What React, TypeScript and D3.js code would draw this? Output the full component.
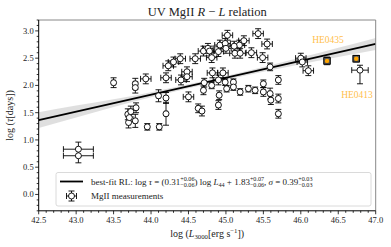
import { useEffect, useRef } from 'react';
import { select, scaleLinear, area, line, curveMonotoneX, range } from 'd3';

// MgII measurements: log L3000, log tau, and their errors
const logL = [
  43.03, 43.03, 43.5, 43.79, 43.79, 43.93, 43.69, 43.73, 43.8, 43.7, 43.79, 43.71, 43.95, 44.11,
  44.1, 44.2, 44.2, 44.2, 44.23, 44.3, 44.39, 44.5, 44.48, 44.48, 44.4, 44.59, 44.63, 44.68,
  44.7, 44.76, 44.71, 44.7,
  45.02, 45.43, 45.55, 45.24, 45.18, 45.11, 44.92, 44.99, 45.0, 44.9, 44.78, 44.81, 45.12, 45.19,
  45.34, 45.49, 44.82, 44.96, 45.59, 46.0, 46.02, 46.1,
  44.81, 44.9, 44.91, 44.9, 44.99, 45.01, 45.1, 45.1, 45.19, 45.3, 45.39, 45.5, 45.5, 45.59,
  45.6, 45.7, 45.7, 45.7, 46.79,
];
const logTau = [
  0.83, 0.71, 2.05, 2.03, 1.96, 2.12, 1.47, 1.52, 1.59, 1.32, 1.35, 1.41, 1.24, 1.24,
  1.81, 1.77, 1.48, 2.14, 2.36, 2.43, 2.49, 1.79, 2.25, 2.16, 2.1, 2.49, 1.58, 1.53,
  2.63, 2.68, 2.05, 1.91,
  2.92, 2.95, 2.76, 2.82, 2.74, 2.72, 2.74, 2.77, 2.68, 2.62, 2.63, 2.51, 2.59, 2.59,
  2.6, 2.51, 2.23, 2.23, 2.34, 2.5, 2.43, 2.27,
  2.0, 2.1, 1.82, 1.64, 2.06, 1.94, 2.06, 1.97, 1.88, 1.94, 1.91, 2.03, 1.88, 1.85,
  1.73, 2.1, 1.76, 1.48, 2.28,
];
const errL = [
  0.2, 0.2, 0.02, 0.02, 0.02, 0.07, 0.02, 0.02, 0.02, 0.02, 0.02, 0.02, 0.02, 0.02,
  0.02, 0.02, 0.02, 0.07, 0.07, 0.07, 0.07, 0.07, 0.07, 0.07, 0.07, 0.07, 0.02, 0.02,
  0.07, 0.07, 0.02, 0.02,
  0.07, 0.07, 0.07, 0.07, 0.07, 0.07, 0.07, 0.07, 0.07, 0.07, 0.07, 0.07, 0.07, 0.07,
  0.07, 0.07, 0.07, 0.07, 0.02, 0.07, 0.07, 0.07,
  0.02, 0.07, 0.02, 0.02, 0.02, 0.02, 0.02, 0.02, 0.02, 0.02, 0.02, 0.02, 0.02, 0.02,
  0.02, 0.02, 0.02, 0.02, 0.11,
];
const errTauLo = [
  0.13, 0.13, 0.09, 0.1, 0.1, 0.09, 0.1, 0.1, 0.09, 0.1, 0.12, 0.08, 0.06, 0.06,
  0.11, 0.1, 0.21, 0.09, 0.09, 0.09, 0.09, 0.09, 0.09, 0.09, 0.09, 0.09, 0.08, 0.09,
  0.09, 0.09, 0.08, 0.08,
  0.09, 0.09, 0.09, 0.09, 0.09, 0.09, 0.09, 0.09, 0.09, 0.09, 0.09, 0.09, 0.09, 0.09,
  0.09, 0.09, 0.09, 0.09, 0.07, 0.09, 0.09, 0.09,
  0.06, 0.09, 0.08, 0.08, 0.06, 0.06, 0.06, 0.06, 0.06, 0.06, 0.06, 0.07, 0.08, 0.1,
  0.08, 0.08, 0.08, 0.08, 0.25,
];
const errTauHi = [
  0.13, 0.13, 0.09, 0.1, 0.1, 0.09, 0.1, 0.1, 0.09, 0.1, 0.12, 0.08, 0.06, 0.06,
  0.11, 0.1, 0.21, 0.09, 0.09, 0.09, 0.09, 0.09, 0.09, 0.09, 0.09, 0.09, 0.08, 0.09,
  0.09, 0.09, 0.08, 0.08,
  0.09, 0.09, 0.09, 0.09, 0.09, 0.09, 0.09, 0.09, 0.09, 0.09, 0.09, 0.09, 0.09, 0.09,
  0.09, 0.09, 0.09, 0.09, 0.07, 0.09, 0.09, 0.09,
  0.06, 0.09, 0.08, 0.08, 0.06, 0.06, 0.06, 0.06, 0.06, 0.06, 0.06, 0.07, 0.08, 0.1,
  0.08, 0.08, 0.08, 0.08, 0.09,
];

// highlighted sources (orange)
const heLogL = [46.35, 46.74];
const heLogTau = [2.45, 2.49];
const heErrL = [0.03, 0.04];
const heErrTau = [0.07, 0.06];

// best-fit relation: log tau = slope * (log L - 44) + intercept
const fitSlope = 0.31;
const fitIntercept = 1.83;
const fitPivot = 44;

// confidence band
const bandX = [42.5, 43, 43.5, 44, 44.5, 45, 45.5, 46, 46.5, 47];
const bandLo = [1.22, 1.41, 1.605, 1.785, 1.95, 2.105, 2.25, 2.39, 2.52, 2.65];
const bandHi = [1.51, 1.63, 1.745, 1.875, 2.02, 2.175, 2.34, 2.51, 2.69, 2.87];

const xTicks = [42.5, 43.0, 43.5, 44.0, 44.5, 45.0, 45.5, 46.0, 46.5, 47.0];
const yTicks = [0.0, 0.5, 1.0, 1.5, 2.0, 2.5, 3.0];

const FONT = "'Liberation Serif', 'DejaVu Serif', serif";
const ORANGE = '#ffa500';
const LABEL_ORANGE = '#ffc04d';

// draws a run of text pieces (italic, sub, sup, stacked sup/sub) one after another
const rich = (parent, segs, size, x, y, anchor = 'start', color = '#000') => {
  const g = parent.append('g');
  let cx = 0;
  const put = (t, fs, dy, italic) => {
    const el = g
      .append('text')
      .attr('x', cx)
      .attr('y', dy)
      .attr('font-size', fs)
      .attr('font-family', FONT)
      .attr('fill', color)
      .style('white-space', 'pre')
      .style('font-style', italic ? 'italic' : 'normal')
      .text(t);
    return el.node().getComputedTextLength();
  };
  segs.forEach((s) => {
    const small = size * 0.68;
    if (s.sup !== undefined && s.sub !== undefined) {
      const w1 = put(s.sup, small, -size * 0.38, false);
      const w2 = put(s.sub, small, size * 0.3, false);
      cx += Math.max(w1, w2);
    } else if (s.sup !== undefined) {
      cx += put(s.sup, small, -size * 0.38, false);
    } else if (s.sub !== undefined) {
      cx += put(s.sub, small, size * 0.25, false);
    } else {
      cx += put(s.t, size, 0, s.i);
    }
  });
  const shift = anchor === 'middle' ? -cx / 2 : anchor === 'end' ? -cx : 0;
  g.attr('transform', `translate(${x + shift},${y})`);
  return g;
};

const errorbar = (g, px, py, x0, x1, y0, y1, cap) => {
  g.append('line').attr('x1', x0).attr('x2', x1).attr('y1', py).attr('y2', py);
  g.append('line').attr('x1', px).attr('x2', px).attr('y1', y0).attr('y2', y1);
  [x0, x1].forEach((cx) =>
    g.append('line').attr('x1', cx).attr('x2', cx).attr('y1', py - cap).attr('y2', py + cap)
  );
  [y0, y1].forEach((cy) =>
    g.append('line').attr('x1', px - cap).attr('x2', px + cap).attr('y1', cy).attr('y2', cy)
  );
};

const App = () => {
  const svgRef = useRef(null);

  useEffect(() => {
    document.body.style.margin = '0';
    const svg = select(svgRef.current);
    svg.selectAll('*').remove();

    const x = scaleLinear().domain([42.5, 47]).range([38.7, 375.7]);
    const y = scaleLinear().domain([-0.3, 3.2]).range([210.8, 20]);
    const [left, right] = x.range();
    const [bottom, top] = y.range();

    svg.append('rect').attr('width', 391).attr('height', 247).attr('fill', '#fff');

    // confidence band
    const band = area()
      .x((d) => x(d))
      .y0((d, i) => y(bandLo[i]))
      .y1((d, i) => y(bandHi[i]))
      .curve(curveMonotoneX);
    svg.append('path').datum(bandX).attr('d', band).attr('fill', '#d9d9d9').attr('opacity', 0.85);

    // best-fit line
    const fitLine = line()
      .x((d) => x(d))
      .y((d) => y(fitSlope * (d - fitPivot) + fitIntercept));
    svg
      .append('path')
      .datum(x.domain())
      .attr('d', fitLine)
      .attr('stroke', '#000')
      .attr('stroke-width', 1.8)
      .attr('fill', 'none');

    // measurements
    const pts = svg.append('g').attr('stroke', '#000').attr('stroke-width', 0.9);
    logL.forEach((l, i) => {
      const px = x(l);
      const py = y(logTau[i]);
      errorbar(
        pts,
        px,
        py,
        x(l - errL[i]),
        x(l + errL[i]),
        y(logTau[i] - errTauLo[i]),
        y(logTau[i] + errTauHi[i]),
        3
      );
    });
    logL.forEach((l, i) => {
      pts
        .append('circle')
        .attr('cx', x(l))
        .attr('cy', y(logTau[i]))
        .attr('r', 3)
        .attr('fill', '#fff');
    });

    // orange sources
    heLogL.forEach((l, i) => {
      const px = x(l);
      const py = y(heLogTau[i]);
      errorbar(
        pts,
        px,
        py,
        x(l - heErrL[i]),
        x(l + heErrL[i]),
        y(heLogTau[i] - heErrTau[i]),
        y(heLogTau[i] + heErrTau[i]),
        3
      );
      pts
        .append('rect')
        .attr('x', px - 3.3)
        .attr('y', py - 3.3)
        .attr('width', 6.6)
        .attr('height', 6.6)
        .attr('fill', '#555');
      pts
        .append('circle')
        .attr('cx', px)
        .attr('cy', py)
        .attr('r', 2.2)
        .attr('fill', ORANGE)
        .attr('stroke', 'none');
    });

    rich(svg, [{ t: 'HE0435' }], 9.5, x(46.35) + 1, y(2.45) - 18, 'middle', LABEL_ORANGE);
    rich(svg, [{ t: 'HE0413' }], 9.5, x(46.79) - 3, y(2.28) + 28, 'middle', LABEL_ORANGE);

    // spines
    svg
      .append('path')
      .attr('d', `M${left},${top}H${right}V${bottom}`)
      .attr('stroke', '#888')
      .attr('fill', 'none')
      .attr('stroke-width', 1);
    svg
      .append('path')
      .attr('d', `M${left},${top}V${bottom}H${right}`)
      .attr('stroke', '#000')
      .attr('fill', 'none')
      .attr('stroke-width', 1);

    // ticks
    const ax = svg.append('g').attr('stroke', '#000').attr('stroke-width', 0.8);
    range(-3, 33).forEach((k) => {
      const v = k / 10;
      if (k % 5 === 0) return;
      ax.append('line').attr('x1', left).attr('x2', left - 2).attr('y1', y(v)).attr('y2', y(v));
    });
    range(425, 471).forEach((k) => {
      const v = k / 10;
      if (k % 5 === 0) return;
      ax.append('line').attr('x1', x(v)).attr('x2', x(v)).attr('y1', bottom).attr('y2', bottom + 2);
    });
    yTicks.forEach((v) => {
      ax.append('line').attr('x1', left).attr('x2', left - 3.5).attr('y1', y(v)).attr('y2', y(v));
      rich(svg, [{ t: v.toFixed(1) }], 8.5, left - 5, y(v) + 3, 'end', '#222');
    });
    xTicks.forEach((v) => {
      ax.append('line').attr('x1', x(v)).attr('x2', x(v)).attr('y1', bottom).attr('y2', bottom + 3.5);
      rich(svg, [{ t: v.toFixed(1) }], 8.5, x(v), bottom + 12.5, 'middle', '#222');
    });

    // title and axis labels
    const mid = (left + right) / 2;
    rich(
      svg,
      [{ t: 'UV MgII ' }, { t: 'R', i: true }, { t: ' − ' }, { t: 'L', i: true }, { t: ' relation' }],
      12.5,
      mid,
      15.5,
      'middle',
      '#222'
    );
    rich(
      svg,
      [{ t: 'log (' }, { t: 'L', i: true }, { sub: '3000' }, { t: '[erg s' }, { sup: '−1' }, { t: '])' }],
      10,
      mid,
      bottom + 26,
      'middle',
      '#222'
    );
    const yl = svg.append('g').attr('transform', `translate(13,${(top + bottom) / 2}) rotate(-90)`);
    rich(yl, [{ t: 'log (' }, { t: 'τ', i: true }, { t: '[days])' }], 10, 0, 0, 'middle', '#222');

    // legend
    const lg = svg.append('g');
    lg.append('rect')
      .attr('x', 56)
      .attr('y', 172.5)
      .attr('width', 315)
      .attr('height', 33.5)
      .attr('rx', 2)
      .attr('fill', '#fff')
      .attr('fill-opacity', 0.8)
      .attr('stroke', '#d0d0d0')
      .attr('stroke-width', 0.8);
    lg.append('line')
      .attr('x1', 60)
      .attr('x2', 83)
      .attr('y1', 181.5)
      .attr('y2', 181.5)
      .attr('stroke', '#000')
      .attr('stroke-width', 1.8);
    rich(
      lg,
      [
        { t: 'best-fit RL: log ' },
        { t: 'τ', i: true },
        { t: ' = (0.31' },
        { sup: '+0.06', sub: '−0.06' },
        { t: ') log ' },
        { t: 'L', i: true },
        { sub: '44' },
        { t: ' + 1.83' },
        { sup: '+0.07', sub: '−0.06' },
        { t: ', ' },
        { t: 'σ', i: true },
        { t: ' = 0.39' },
        { sup: '+0.03', sub: '−0.03' },
      ],
      9,
      91,
      184.5,
      'start',
      '#222'
    );
    const lm = lg.append('g').attr('stroke', '#000').attr('stroke-width', 0.9);
    errorbar(lm, 71.5, 196, 66.5, 76.5, 201, 191, 3);
    lm.append('circle').attr('cx', 71.5).attr('cy', 196).attr('r', 3).attr('fill', '#fff');
    rich(lg, [{ t: 'MgII measurements' }], 9, 91, 199.3, 'start', '#222');
  }, []);

  return <svg ref={svgRef} width={391} height={247} style={{ display: 'block' }} />;
};

export default App;
